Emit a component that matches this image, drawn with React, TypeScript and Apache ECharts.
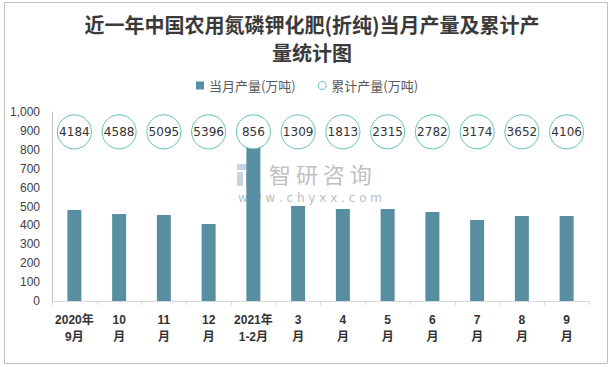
import React, { useEffect, useRef } from "react";
import * as echarts from "echarts";

const categories = ["2020年\n9月", "10\n月", "11\n月", "12\n月", "2021年\n1-2月", "3\n月", "4\n月", "5\n月", "6\n月", "7\n月", "8\n月", "9\n月"];
const monthly = [481, 460, 455, 407, 852, 503, 487, 487, 471, 429, 450, 450];
const cumulative = [4184, 4588, 5095, 5396, 856, 1309, 1813, 2315, 2782, 3174, 3652, 4106];
const yTicks = [0, 100, 200, 300, 400, 500, 600, 700, 800, 900, 1000];
const CIRCLE_ROW = 895;

const FONT = "'Liberation Sans', 'Noto Sans CJK SC', sans-serif";

export default function App() {
  const ref = useRef<HTMLDivElement>(null);
  useEffect(() => {
    if (!ref.current) return;
    const chart = echarts.init(ref.current, null, { renderer: "svg" });
    chart.setOption({
      animation: false,
      backgroundColor: "#ffffff",
      title: {
        text: "近一年中国农用氮磷钾化肥(折纯)当月产量及累计产\n量统计图",
        left: 307,
        top: 5,
        textAlign: "center",
        textStyle: {
          fontFamily: "'Noto Sans CJK SC', serif",
          fontSize: 20,
          fontWeight: "bold",
          color: "#3a3a3a",
          lineHeight: 28,
        },
      },
      legend: {
        left: "center",
        top: 74,
        itemWidth: 8,
        itemHeight: 8,
        itemGap: 22,
        textStyle: { fontFamily: "'Noto Sans CJK SC', sans-serif", fontSize: 13, color: "#595959" },
        data: [
          { name: "当月产量(万吨)", icon: "rect" },
          { name: "累计产量(万吨)", icon: "circle", itemStyle: { color: "#fff", borderColor: "#5bc2b5", borderWidth: 1 } },
        ],
      },
      grid: { left: 52, right: 25, top: 112, bottom: 66 },
      xAxis: {
        type: "category",
        data: categories,
        boundaryGap: true,
        axisLine: { lineStyle: { color: "#d9d9d9" } },
        axisTick: { show: true, length: 4, lineStyle: { color: "#d9d9d9" } },
        axisLabel: {
          interval: 0,
          fontFamily: FONT,
          fontSize: 12,
          fontWeight: "bold",
          color: "#333",
          lineHeight: 17,
          margin: 10,
        },
      },
      yAxis: {
        type: "value",
        min: yTicks[0],
        max: yTicks[yTicks.length - 1],
        interval: 100,
        splitLine: { show: false },
        axisLine: { show: true, lineStyle: { color: "#bfbfbf" } },
        axisTick: { show: false },
        axisLabel: {
          fontFamily: FONT,
          fontSize: 12,
          color: "#404040",
          margin: 12,
          formatter: (v: number) => v.toLocaleString("en-US"),
        },
      },
      series: [
        {
          name: "当月产量(万吨)",
          type: "bar",
          data: monthly,
          barWidth: 14,
          itemStyle: { color: "#588ea2" },
          z: 2,
        },
        {
          name: "累计产量(万吨)",
          type: "scatter",
          data: cumulative.map((c, i) => [i, CIRCLE_ROW, c]),
          symbol: "circle",
          symbolSize: 34,
          itemStyle: { color: "#ffffff", borderColor: "#5bc2b5", borderWidth: 1, opacity: 1 },
          label: {
            show: true,
            position: "inside",
            fontFamily: "'DejaVu Sans', sans-serif",
            fontSize: 12,
            color: "#333",
            formatter: (p: any) => String(p.value[2]),
          },
          z: 3,
        },
      ],
      graphic: [
        {
          type: "rect",
          shape: { x: 4.5, y: 2.5, width: 603, height: 361 },
          style: { fill: "none", stroke: "#bfbfbf", lineWidth: 1 },
          silent: true,
        },
        {
          type: "group",
          z: 1,
          silent: true,
          children: [
            { type: "rect", shape: { x: 237, y: 164, width: 14, height: 6 }, style: { fill: "#c9d4e2" } },
            { type: "rect", shape: { x: 237, y: 172, width: 6, height: 14 }, style: { fill: "#c9d4e2" } },
            { type: "rect", shape: { x: 246, y: 172, width: 12, height: 14 }, style: { fill: "#a9c0dc" } },
            {
              type: "text",
              x: 269,
              y: 162,
              style: { text: "智 研 咨 询", fontFamily: "'Noto Sans CJK SC', sans-serif", fontSize: 22, fill: "#c0c0c0" },
            },
            {
              type: "text",
              x: 238,
              y: 192,
              style: { text: "w w w . c h y x x . c o m", fontFamily: "'DejaVu Sans', sans-serif", fontSize: 12, fill: "#bdbdbd" },
            },
          ],
        },
      ],
    });
    return () => chart.dispose();
  }, []);
  return <div ref={ref} style={{ width: 614, height: 367, position: "absolute", left: 0, top: 0 }} />;
}
